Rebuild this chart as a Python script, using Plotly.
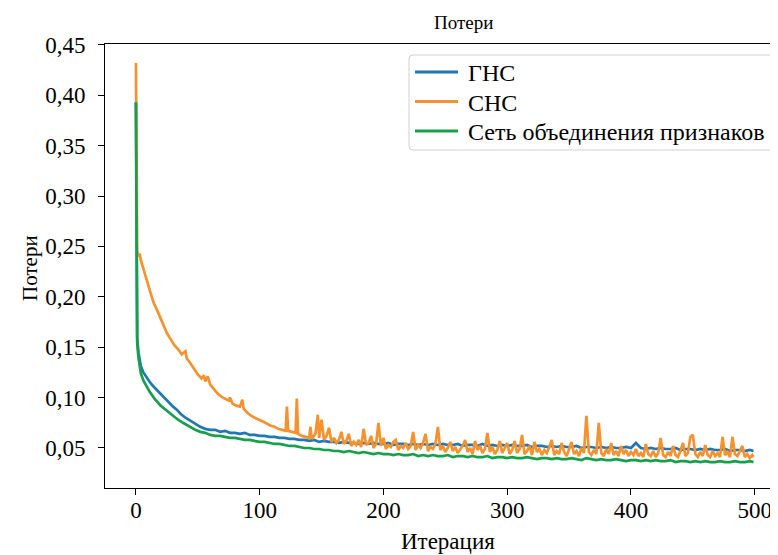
import plotly.graph_objects as go

# ---------------- data ----------------
gns_x = [0, 1, 2, 3, 4, 6, 8, 10, 12, 15, 18, 21, 24, 27, 30, 33, 36, 40, 44, 48, 52, 56, 60,
         64, 68, 72, 76, 80, 84, 88, 92, 96, 100, 104, 108, 112, 116, 120, 124, 128, 132, 136, 140,
         144, 148, 152, 156, 160, 164, 168, 172, 176, 180, 184, 188, 192, 196, 200, 204, 208, 212,
         216, 220, 224, 228, 232, 236, 240, 244, 248, 252, 256, 260, 264, 268, 272, 276, 280, 284,
         288, 292, 296, 300, 304, 308, 312, 316, 320, 324, 328, 332, 336, 340, 344, 348, 352, 356,
         360, 364, 368, 372, 376, 380, 384, 388, 392, 396, 400, 404, 408, 412, 416, 420, 424, 428,
         432, 436, 440, 444, 448, 452, 456, 460, 464, 468, 472, 476, 480, 484, 488, 492, 496, 499]
gns_y = [0.393, 0.160, 0.145, 0.137, 0.131, 0.125, 0.121, 0.118, 0.114, 0.110, 0.106, 0.102, 0.099,
         0.095, 0.091, 0.088, 0.084, 0.080, 0.077, 0.074, 0.071, 0.069, 0.068,
         0.068, 0.066, 0.067, 0.065, 0.065, 0.064, 0.065, 0.063, 0.063, 0.062, 0.062, 0.061, 0.061,
         0.060, 0.060, 0.059, 0.059, 0.058, 0.058, 0.057, 0.058, 0.056, 0.057, 0.056, 0.056, 0.055,
         0.056, 0.055, 0.055, 0.054, 0.055, 0.054, 0.055, 0.054, 0.054, 0.055, 0.053, 0.054, 0.054,
         0.053, 0.054, 0.053, 0.054, 0.053, 0.054, 0.053, 0.054, 0.053, 0.053, 0.054, 0.052, 0.053,
         0.053, 0.052, 0.054, 0.052, 0.053, 0.052, 0.053, 0.052, 0.053, 0.052, 0.052, 0.053, 0.051,
         0.052, 0.052, 0.051, 0.052, 0.051, 0.052, 0.051, 0.051, 0.052, 0.050, 0.051, 0.051, 0.050,
         0.051, 0.050, 0.051, 0.050, 0.050, 0.051, 0.050, 0.055, 0.050, 0.049, 0.050, 0.049, 0.050,
         0.049, 0.049, 0.050, 0.048, 0.049, 0.049, 0.048, 0.049, 0.048, 0.049, 0.048, 0.048, 0.049,
         0.047, 0.048, 0.048, 0.047, 0.048, 0.047]

snc_x = [0, 1, 2, 3, 4, 6, 8, 10, 12, 14, 17, 20, 23, 25, 28, 31, 34, 37, 40, 41, 44, 47, 50, 53,
         55, 56, 58, 60, 63, 66, 69, 72, 75, 76, 78, 81, 84, 86, 87, 90, 93, 96, 100, 103, 106, 109,
         112, 115, 118, 121, 122, 123, 126, 129, 130, 131, 134, 137, 140, 141, 142, 145, 147, 148,
         150, 152, 154, 156, 158, 160, 162, 164, 166, 168, 170, 172, 174, 176, 178, 180, 182, 184,
         186, 188, 190, 192, 194, 196, 198, 200, 202, 204, 206, 208, 210, 212, 214, 216, 218, 220,
         222, 224, 226, 228, 230, 232, 234, 236, 238, 240, 242, 244, 246, 248, 250, 252, 254, 256,
         258, 260, 262, 264, 266, 268, 270, 272, 274, 276, 278, 280, 282, 284, 286, 288, 290, 292,
         294, 296, 298, 300, 302, 304, 306, 308, 310, 312, 314, 316, 318, 320, 322, 324, 326, 328,
         330, 332, 334, 336, 338, 340, 342, 344, 346, 348, 350, 352, 354, 356, 358, 360, 362, 364,
         366, 368, 370, 372, 374, 376, 378, 380, 382, 384, 386, 388, 390, 392, 394, 396, 398, 400,
         402, 404, 406, 408, 410, 412, 414, 416, 418, 420, 422, 424, 426, 428, 430, 432, 434, 436,
         438, 440, 442, 444, 446, 448, 450, 452, 454, 456, 458, 460, 462, 464, 466, 468, 470, 472,
         474, 476, 478, 480, 482, 484, 486, 488, 490, 492, 494, 496, 498, 499]
snc_y = [0.432, 0.245, 0.240, 0.243, 0.236, 0.228, 0.218, 0.210, 0.203, 0.195, 0.187, 0.178, 0.170,
         0.164, 0.158, 0.152, 0.148, 0.143, 0.146, 0.139, 0.134, 0.128, 0.123, 0.119, 0.122, 0.116,
         0.121, 0.113, 0.108, 0.104, 0.101, 0.099, 0.097, 0.100, 0.094, 0.092, 0.091, 0.098, 0.089,
         0.085, 0.082, 0.080, 0.078, 0.076, 0.074, 0.072, 0.071, 0.069, 0.068, 0.067, 0.091, 0.067,
         0.066, 0.065, 0.099, 0.064, 0.062, 0.061, 0.060, 0.071, 0.059, 0.064, 0.083, 0.060,
         0.078, 0.058, 0.062, 0.070, 0.056, 0.060, 0.055, 0.058, 0.066, 0.054, 0.057, 0.064, 0.052,
         0.056, 0.053, 0.058, 0.051, 0.069, 0.053, 0.055, 0.062, 0.050, 0.054, 0.075, 0.052, 0.060,
         0.049, 0.053, 0.051, 0.056, 0.058, 0.048, 0.052, 0.050, 0.055, 0.049, 0.052, 0.066, 0.048,
         0.053, 0.050, 0.055, 0.064, 0.047, 0.051, 0.049, 0.054, 0.071, 0.048, 0.052, 0.046, 0.050,
         0.056, 0.047, 0.051, 0.045, 0.049, 0.052, 0.058, 0.046, 0.050, 0.044, 0.057, 0.048, 0.052,
         0.045, 0.049, 0.065, 0.046, 0.051, 0.044, 0.048, 0.057, 0.045, 0.050, 0.055, 0.044, 0.048,
         0.057, 0.045, 0.049, 0.063, 0.044, 0.047, 0.052, 0.043, 0.056, 0.046, 0.049, 0.043, 0.048,
         0.045, 0.051, 0.058, 0.043, 0.047, 0.044, 0.055, 0.046, 0.042, 0.049, 0.056, 0.044, 0.047,
         0.042, 0.050, 0.045, 0.082, 0.046, 0.043, 0.048, 0.044, 0.075, 0.045, 0.042, 0.049, 0.044,
         0.055, 0.043, 0.047, 0.042, 0.052, 0.044, 0.048, 0.042, 0.046, 0.043, 0.049, 0.042, 0.045,
         0.041, 0.054, 0.044, 0.042, 0.047, 0.041, 0.045, 0.060, 0.043, 0.041, 0.046, 0.042, 0.052,
         0.043, 0.041, 0.047, 0.055, 0.042, 0.045, 0.061, 0.063, 0.044, 0.041, 0.046, 0.042, 0.053,
         0.043, 0.041, 0.047, 0.042, 0.045, 0.041, 0.061, 0.043, 0.046, 0.041, 0.061, 0.044, 0.042,
         0.047, 0.052, 0.041, 0.044, 0.040, 0.043, 0.041]

fusion_x = [0, 1, 2, 3, 4, 6, 8, 11, 15, 20, 25, 30, 34, 38, 42, 45, 48, 52, 56, 60,
            64, 68, 72, 76, 80, 84, 88, 92, 96, 100, 104, 108, 112, 116, 120, 124, 128, 132, 136,
            140, 144, 148, 152, 156, 160, 164, 168, 172, 176, 180, 184, 188, 192, 196, 200, 204,
            208, 212, 216, 220, 224, 228, 232, 236, 240, 244, 248, 252, 256, 260, 264, 268, 272,
            276, 280, 284, 288, 292, 296, 300, 304, 308, 312, 316, 320, 324, 328, 332, 336, 340,
            344, 348, 352, 356, 360, 364, 368, 372, 376, 380, 384, 388, 392, 396, 400, 404, 408,
            412, 416, 420, 424, 428, 432, 436, 440, 444, 448, 452, 456, 460, 464, 468, 472, 476,
            480, 484, 488, 492, 496, 499]
fusion_y = [0.393, 0.155, 0.140, 0.130, 0.124, 0.117, 0.112, 0.106, 0.099, 0.092, 0.087, 0.082,
            0.078, 0.075, 0.072, 0.070, 0.068, 0.066, 0.065, 0.063,
            0.062, 0.062, 0.061, 0.060, 0.060, 0.059, 0.058, 0.058, 0.057, 0.056, 0.056, 0.055,
            0.054, 0.054, 0.053, 0.052, 0.052, 0.051, 0.050, 0.050, 0.049, 0.049, 0.048, 0.048,
            0.047, 0.047, 0.046, 0.047, 0.046, 0.045, 0.046, 0.045, 0.044, 0.045, 0.044, 0.044,
            0.043, 0.044, 0.043, 0.043, 0.044, 0.042, 0.043, 0.042, 0.043, 0.042, 0.042, 0.043,
            0.041, 0.042, 0.042, 0.041, 0.042, 0.041, 0.041, 0.042, 0.040, 0.041, 0.041, 0.040,
            0.041, 0.040, 0.040, 0.041, 0.040, 0.039, 0.040, 0.040, 0.039, 0.040, 0.039, 0.039,
            0.040, 0.039, 0.038, 0.040, 0.039, 0.038, 0.039, 0.038, 0.038, 0.039, 0.038, 0.037,
            0.038, 0.038, 0.037, 0.038, 0.037, 0.038, 0.037, 0.037, 0.038, 0.036, 0.037, 0.037,
            0.036, 0.037, 0.036, 0.037, 0.036, 0.036, 0.037, 0.036, 0.036, 0.037, 0.036, 0.036,
            0.037, 0.036]

series_names = ["ГНС", "СНС", "Сеть объединения признаков"]
x_ticks = [0, 100, 200, 300, 400, 500]
y_ticks = [0.05, 0.10, 0.15, 0.20, 0.25, 0.30, 0.35, 0.40, 0.45]

# ---------------- styling ----------------
FONT = "Liberation Serif, Times New Roman, serif"
colors = ["#1f77b4", "#f5922f", "#17a04c"]

# plot area in page pixels (page body adds an 8px offset)
PL, PR, PT, PB = 105, 777, 44, 488


def px(xp):
    return (xp - PL) / (PR - PL)


def py(yp):
    return (PB - yp) / (PB - PT)


fig = go.Figure()
for name, xs, ys, c in zip(series_names, [gns_x, snc_x, fusion_x], [gns_y, snc_y, fusion_y], colors):
    fig.add_trace(go.Scatter(x=xs, y=ys, mode="lines", name=name, showlegend=False,
                             line=dict(color=c, width=2.7)))

# legend drawn as a box + sample lines + text labels (matches matplotlib spacing)
lx0, lx1, ly0, ly1, r = 409, 773, 55, 150, 4
box_path = (f"M {px(lx0 + r)} {py(ly0)} L {px(lx1 - r)} {py(ly0)} "
            f"Q {px(lx1)} {py(ly0)} {px(lx1)} {py(ly0 + r)} L {px(lx1)} {py(ly1 - r)} "
            f"Q {px(lx1)} {py(ly1)} {px(lx1 - r)} {py(ly1)} L {px(lx0 + r)} {py(ly1)} "
            f"Q {px(lx0)} {py(ly1)} {px(lx0)} {py(ly1 - r)} L {px(lx0)} {py(ly0 + r)} "
            f"Q {px(lx0)} {py(ly0)} {px(lx0 + r)} {py(ly0)} Z")
shapes = [dict(type="path", xref="paper", yref="paper", path=box_path,
               line=dict(color="#d0d0d0", width=1), fillcolor="rgba(255,255,255,0.85)",
               layer="above")]
annotations = []
row_y = [72, 101.5, 131]
for name, c, yy in zip(series_names, colors, row_y):
    shapes.append(dict(type="line", xref="paper", yref="paper",
                       x0=px(415), x1=px(458), y0=py(yy), y1=py(yy),
                       line=dict(color=c, width=3), layer="above"))
    annotations.append(dict(text=name, xref="paper", yref="paper", x=px(466), y=py(yy + 1),
                            xanchor="left", yanchor="middle", showarrow=False,
                            font=dict(family=FONT, size=24, color="black")))

annotations += [
    dict(text="Потери", xref="paper", yref="paper", x=px(463), y=py(22),
         xanchor="center", yanchor="middle", showarrow=False,
         font=dict(family=FONT, size=19, color="black")),
    dict(text="Итерация", xref="paper", yref="paper", x=px(448), y=py(541),
         xanchor="center", yanchor="middle", showarrow=False,
         font=dict(family=FONT, size=23, color="black")),
    dict(text="Потери", xref="paper", yref="paper", x=px(30), y=py(268),
         xanchor="center", yanchor="middle", showarrow=False, textangle=-90,
         font=dict(family=FONT, size=21, color="black")),
]

fig.update_layout(
    width=770, height=547,
    margin=dict(l=PL - 8, r=1, t=PT - 8, b=555 - PB, autoexpand=False),
    paper_bgcolor="white", plot_bgcolor="white",
    separators=", ",
    font=dict(family=FONT, size=23, color="black"),
    showlegend=False,
    shapes=shapes,
    annotations=annotations,
)
fig.update_xaxes(range=[-25, 518], tickvals=x_ticks, ticktext=[str(v) for v in x_ticks],
                 automargin=False, ticklabelstandoff=-5,
                 showgrid=False, zeroline=False, showline=True, linecolor="black", linewidth=1,
                 mirror=True, ticks="outside", ticklen=6, tickcolor="black",
                 tickfont=dict(family=FONT, size=23, color="black"))
fig.update_yaxes(range=[0.0103, 0.4508], tickvals=y_ticks, tickformat=".2f",
                 automargin=False, ticklabelstandoff=8,
                 showgrid=False, zeroline=False, showline=True, linecolor="black", linewidth=1,
                 mirror=False, ticks="outside", ticklen=6, tickcolor="black",
                 tickfont=dict(family=FONT, size=23, color="black"))

fig.write_html("out.html")
